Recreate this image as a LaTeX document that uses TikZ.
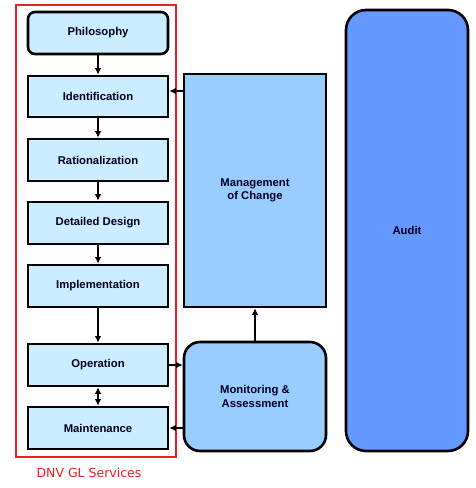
\documentclass[tikz,border=0pt]{standalone}
\usepackage{fontspec}
\setmainfont{Liberation Sans}
\newfontfamily\verd{DejaVu Sans}
\usetikzlibrary{arrows.meta}
\definecolor{lightbox}{HTML}{CCECFF}
\definecolor{midbox}{HTML}{99CCFF}
\definecolor{darkbox}{HTML}{6699FF}
\definecolor{redframe}{HTML}{EE1C25}
\begin{document}
\begin{tikzpicture}[x=1pt,y=-1pt,
  stepbox/.style={draw=black,line width=2.6pt,fill=lightbox,font=\fontsize{11.3}{13.5}\selectfont\bfseries,text=black!85!blue},
  bigbox/.style={draw=black,line width=2.6pt,font=\fontsize{11.3}{13.5}\selectfont\bfseries,align=center,text=black!85!blue},
  conn/.style={line width=1.8pt,-{Latex[length=6.5pt,width=6.5pt]}},
  conn2/.style={line width=1.8pt,{Latex[length=6.5pt,width=6.5pt]}-{Latex[length=6.5pt,width=6.5pt]}}]
\useasboundingbox (0,0) rectangle (476,488);
\node[draw=redframe,line width=2.8pt,minimum width=160pt,minimum height=452pt,inner sep=0pt] (frame) at (96,231) {};
\node[stepbox,rounded corners=7pt,minimum width=140pt,minimum height=42pt] (phil) at (98,33) {Philosophy};
\node[stepbox,minimum width=140pt,minimum height=41pt] (ident) at (98,96.5) {Identification};
\node[stepbox,minimum width=140pt,minimum height=42pt] (rat) at (98,160) {Rationalization};
\node[stepbox,minimum width=140pt,minimum height=42pt] (det) at (98,223) {Detailed Design};
\node[stepbox,minimum width=140pt,minimum height=42pt] (impl) at (98,286) {Implementation};
\node[stepbox,minimum width=140pt,minimum height=42pt] (oper) at (98,365) {Operation};
\node[stepbox,minimum width=140pt,minimum height=42pt] (maint) at (98,428) {Maintenance};
\node[bigbox,fill=midbox,minimum width=142pt,minimum height=233pt] (moc) at (255,190.5) {Management\\of Change};
\node[bigbox,fill=midbox,rounded corners=16pt,minimum width=142pt,minimum height=109pt] (mon) at (255,396.5) {Monitoring \&\\Assessment};
\node[bigbox,fill=darkbox,rounded corners=20pt,minimum width=122pt,minimum height=441pt] (audit) at (407,230.5) {Audit};
\node[text=redframe,font=\verd\fontsize{12.5}{14}\selectfont,anchor=west] (dnv) at (33,473) {DNV GL Services};
\draw[conn] (phil) -- (ident);
\draw[conn] (ident) -- (rat);
\draw[conn] (rat) -- (det);
\draw[conn] (det) -- (impl);
\draw[conn] (impl) -- (oper);
\draw[conn2] (oper) -- (maint);
\draw[conn] (moc.west |- 0,91) -- (ident.east |- 0,91);
\draw[conn] (oper.east) -- (mon.west |- oper.east);
\draw[conn] (mon.west |- maint.east) -- (maint.east);
\draw[conn] (mon.north) -- (moc.south);
\end{tikzpicture}
\end{document}
